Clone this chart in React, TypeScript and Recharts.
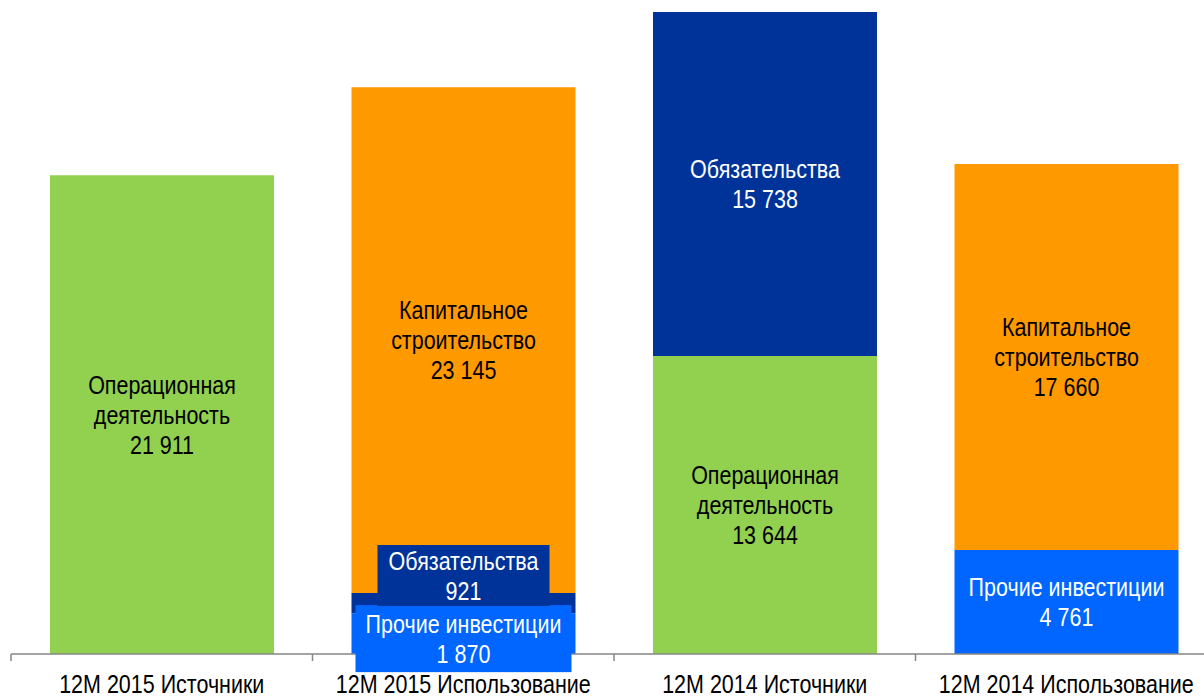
import { Bar, BarChart, LabelList, XAxis, YAxis } from "recharts";

const categories = [
  "12M 2015 Источники",
  "12M 2015 Использование",
  "12M 2014 Источники",
  "12M 2014 Использование",
];
const operations = [21911, 0, 13644, 0];
const otherInvestments = [0, 1870, 0, 4761];
const liabilities = [0, 921, 15738, 0];
const capex = [0, 23145, 0, 17660];

const FONT = '"Liberation Sans", Arial, sans-serif';
const FONT_SIZE = 25;
const SQUEEZE = 0.86;
const CHART_W = 1220;
const CHART_H = 698;
const MARGIN = { top: 12, right: 3, left: 11, bottom: 0 };
const STEP = (CHART_W - MARGIN.left - MARGIN.right) / categories.length;

const data = categories.map((name, i) => ({
  name,
  operations: operations[i],
  other: otherInvestments[i],
  liabilities: liabilities[i],
  capex: capex[i],
}));

const series = [
  { key: "operations", lines: ["Операционная", "деятельность"], fill: "#92D050", text: "#000000" },
  { key: "other", lines: ["Прочие инвестиции"], fill: "#0066FF", text: "#FFFFFF" },
  { key: "liabilities", lines: ["Обязательства"], fill: "#003399", text: "#FFFFFF" },
  { key: "capex", lines: ["Капитальное", "строительство"], fill: "#FF9900", text: "#000000" },
];

const fmt = (v: number) => String(v).replace(/\B(?=(\d{3})+(?!\d))/g, " ");

// narrow text: centred at cx, vertical centre at cy
function NarrowText({ cx, cy, fill, children }: any) {
  return (
    <text transform={`translate(${cx},${cy + FONT_SIZE * 0.36}) scale(${SQUEEZE},1)`} x={0} y={0}
      textAnchor="middle" fill={fill} fontSize={FONT_SIZE} fontFamily={FONT}>
      {children}
    </text>
  );
}

function makeLabel(s: (typeof series)[number]) {
  return (props: any) => {
    const value = Number(props.value);
    if (!value) return null;
    const vb = props.viewBox || {};
    const x = Number(props.x ?? vb.x);
    const y = Number(props.y ?? vb.y);
    const width = Number(props.width ?? vb.width);
    const height = Number(props.height ?? vb.height);
    const lines = [...s.lines, fmt(value)];
    const cx = x + width / 2;
    const lh = 30;

    if (height >= 70) {
      const cy = y + height / 2;
      return (
        <g>
          {lines.map((l, i) => (
            <NarrowText key={i} cx={cx} cy={cy + (i - (lines.length - 1) / 2) * lh} fill={s.text}>
              {l}
            </NarrowText>
          ))}
        </g>
      );
    }

    // small segment: label in a coloured box
    const boxW = s.key === "other" ? 216 : 172;
    const boxH = s.key === "other" ? 67 : 61;
    const top = s.key === "other" ? y - 8 : y - 48;
    return (
      <g>
        <rect x={cx - boxW / 2} y={top} width={boxW} height={boxH} fill={s.fill} />
        {lines.map((l, i) => (
          <NarrowText key={i} cx={cx} cy={top + (boxH - lh) / 2 + i * lh} fill={s.text}>
            {l}
          </NarrowText>
        ))}
      </g>
    );
  };
}

function CategoryTick(props: any) {
  const { x, y, payload, index } = props;
  const axisY = y - 8;
  return (
    <g>
      <line x1={x - STEP / 2} y1={axisY} x2={x - STEP / 2} y2={axisY + 7} stroke="#868686" strokeWidth={1.5} />
      {index === categories.length - 1 && (
        <line x1={x + STEP / 2} y1={axisY} x2={x + STEP / 2} y2={axisY + 7} stroke="#868686" strokeWidth={1.5} />
      )}
      <NarrowText cx={x} cy={axisY + 30} fill="#000000">
        {payload.value}
      </NarrowText>
    </g>
  );
}

export default function App() {
  return (
    <div style={{ position: "absolute", left: 0, top: 0, width: 1204, height: 698, overflow: "hidden", background: "#fff" }}>
      <BarChart width={CHART_W} height={CHART_H} data={data} margin={MARGIN} barSize={224}>
        <XAxis dataKey="name" interval={0} tickLine={false} axisLine={{ stroke: "#868686", strokeWidth: 1.5 }}
          height={44} tick={<CategoryTick />} />
        <YAxis hide domain={[0, "dataMax"]} />
        {series.map((s) => (
          <Bar key={s.key} dataKey={s.key} stackId="a" fill={s.fill} isAnimationActive={false}>
            <LabelList dataKey={s.key} content={makeLabel(s)} />
          </Bar>
        ))}
      </BarChart>
    </div>
  );
}
